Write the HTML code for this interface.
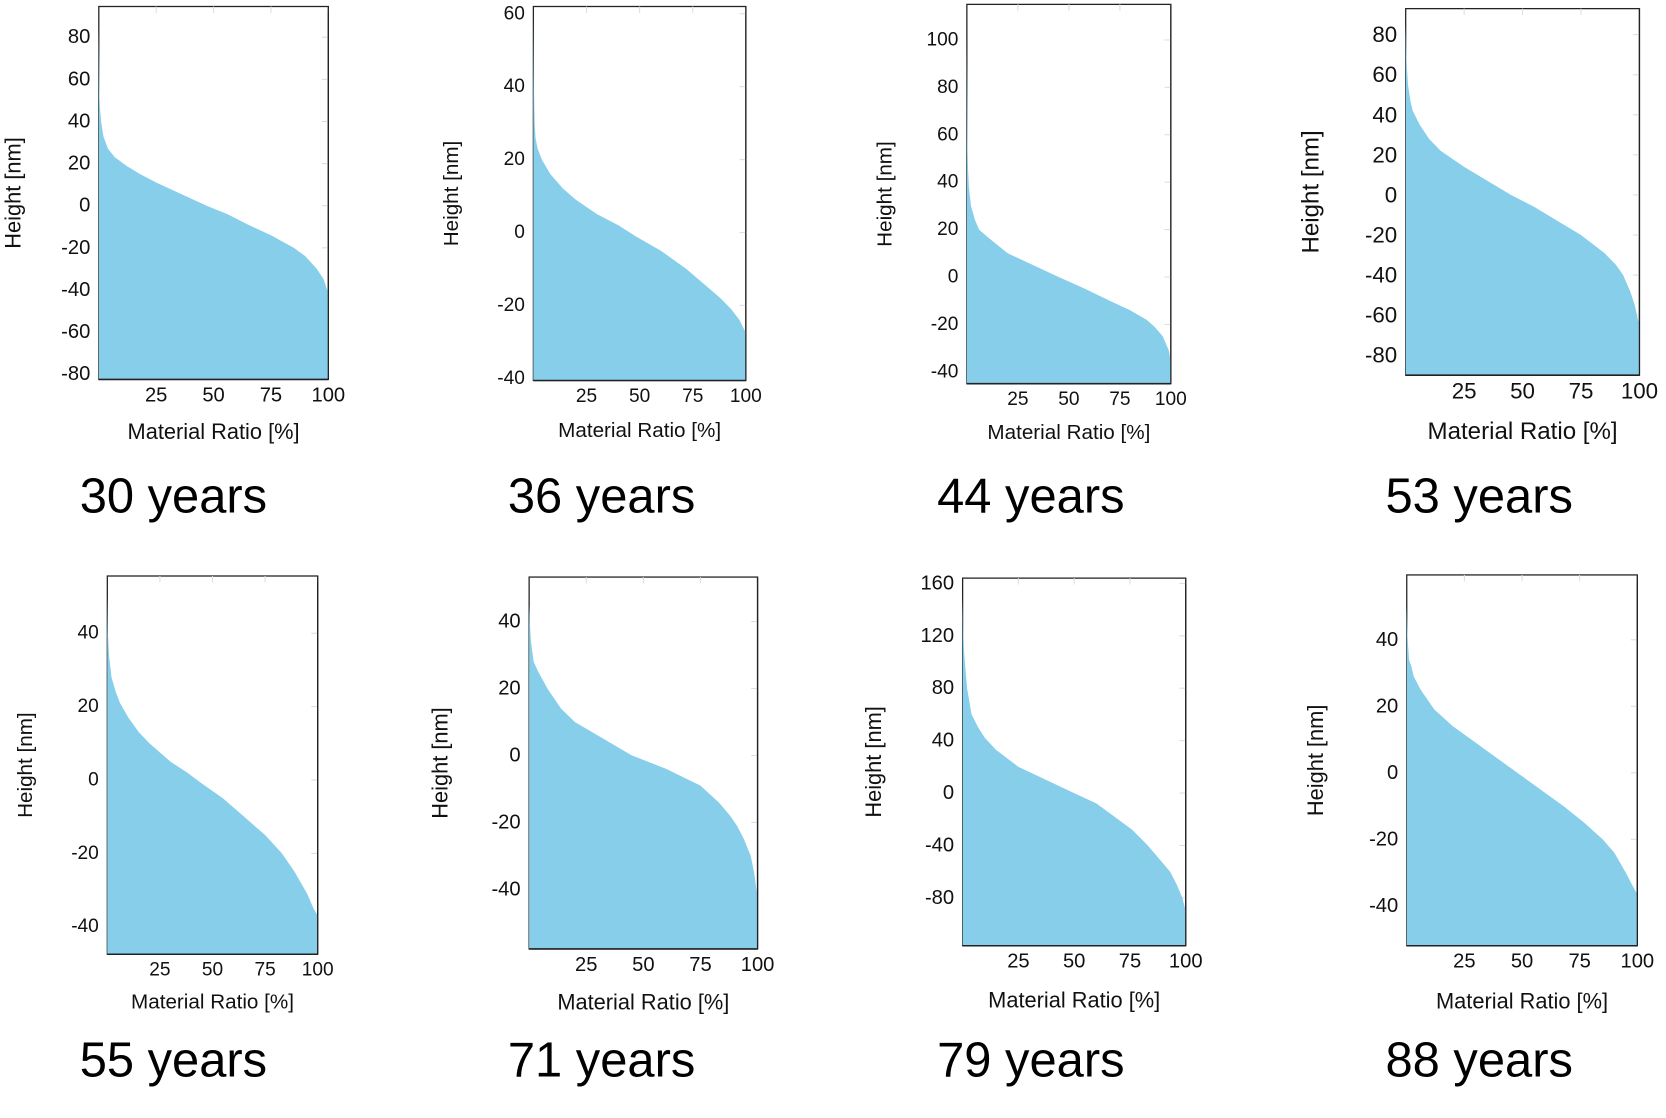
<!DOCTYPE html>
<html><head><meta charset="utf-8"><style>
html,body{margin:0;padding:0;background:#fff;}
svg{display:block;font-family:"Liberation Sans",Arial,sans-serif;}
</style></head><body>
<svg id="fig" width="1666" height="1118" viewBox="0 0 1568 1052" xmlns="http://www.w3.org/2000/svg"></svg>
<script>
// ---- data: per-panel categories & values (Material ratio [%] -> Height [nm]) ----
const panelTitles = ["30 years","36 years","44 years","53 years","55 years","71 years","79 years","88 years"];
const ratio30 = [0,0.3,0.6,1,2,4,7,12,18,25,35,47,56,65,75,85,90,95,98,99.5,100];
const height30 = [85,52,45,40,33,27,23,19,15,11,6,0,-4,-9,-14,-20,-24,-30,-35,-40,-41];
const ratio36 = [0,0.3,0.6,1,2,4,8,14,20,30,40,48,60,72,82,88,93,97,99.5,100];
const height36 = [60,38,30,26,23,20,16,12,9,5,2,-1,-5,-10,-15,-18,-21,-24,-27,-27];
const ratio44 = [0,0.3,0.6,1,2,4,6,10,20,30,45,58,70,80,88,92,96,99,100];
const height44 = [100,55,45,38,30,24,20,17,10,6,0,-5,-10,-14,-18,-21,-25,-31,-36];
const ratio53 = [0,0.3,0.6,1,2,3,6,10,15,25,35,45,55,65,75,85,90,93,96,98,99.5,100];
const height53 = [85,70,62,55,47,42,35,28,22,14,7,0,-6,-13,-20,-29,-35,-40,-48,-55,-63,-65];
const ratio55 = [0,0.3,0.8,2,4,6,10,15,20,30,38,45,55,65,75,83,89,95,98,100];
const height55 = [50,40,34,28,24,21,17,13,10,5,2,-1,-5,-10,-15,-20,-25,-31,-35,-37];
const ratio71 = [0,0.3,0.8,2,4,8,14,20,30,45,60,75,83,88,91,94,97,98.5,99.5,100];
const height71 = [45,40,34,28,25,20,14,10,6,0,-4,-9,-14,-18,-21,-25,-30,-35,-40,-41];
const ratio79 = [0,0.3,0.6,1,2,4,7,10,15,25,35,50,60,68,76,83,88,93,96,98.5,100];
const height79 = [150,125,110,100,80,60,50,42,33,20,12,0,-8,-18,-28,-40,-50,-60,-70,-80,-90];
const ratio88 = [0,0.3,0.6,1,2,3,6,9,12,20,28,38,48,58,68,77,85,90,95,98,99.5,100];
const height88 = [50,42,38,34,32,29,25,22,19,14,10,5,0,-5,-10,-15,-20,-24,-30,-34,-36,-37];
const yTicks30 = [80,60,40,20,0,-20,-40,-60,-80];
const yTicks36 = [60,40,20,0,-20,-40];
const yTicks44 = [100,80,60,40,20,0,-20,-40];
const yTicks53 = [80,60,40,20,0,-20,-40,-60,-80];
const yTicks55 = [40,20,0,-20,-40];
const yTicks71 = [40,20,0,-20,-40];
const yTicks79 = [160,120,80,40,0,-40,-80];
const yTicks88 = [40,20,0,-20,-40];
const xTicks = [25,50,75,100];

const ratios=[ratio30,ratio36,ratio44,ratio53,ratio55,ratio71,ratio79,ratio88];
const heights=[height30,height36,height44,height53,height55,height71,height79,height88];
const yTicksAll=[yTicks30,yTicks36,yTicks44,yTicks53,yTicks55,yTicks71,yTicks79,yTicks88];
const layout=[
 {x0:93,x1:309,y0:6,y1:357,ymax:94.6,ymin:-82.5,fs:19,ylx:12,xly:406,tx:75,ty:467},
 {x0:502,x1:702,y0:6,y1:358,ymax:62,ymin:-40.6,fs:18,ylx:425,xly:405,tx:478,ty:467},
 {x0:910,x1:1102,y0:4,y1:361,ymax:115,ymin:-45,fs:18,ylx:833,xly:407,tx:882,ty:467},
 {x0:1323,x1:1543,y0:8,y1:353,ymax:93,ymin:-90,fs:21,ylx:1234,xly:406,tx:1304,ty:467},
 {x0:101,x1:299,y0:542,y1:898,ymax:55.6,ymin:-47.5,fs:18,ylx:24,xly:943,tx:75,ty:998},
 {x0:498,x1:713,y0:543,y1:893,ymax:53.3,ymin:-57.8,fs:19,ylx:414,xly:943,tx:478,ty:998},
 {x0:906,x1:1116,y0:544,y1:890,ymax:164,ymin:-116.5,fs:19,ylx:822,xly:941,tx:882,ty:998},
 {x0:1324,x1:1541,y0:541,y1:890,ymax:59.5,ymin:-52,fs:19,ylx:1238,xly:942,tx:1304,ty:998}
];
const NS="http://www.w3.org/2000/svg";
const svg=document.getElementById('fig');
function mk(tag,attrs,parent){const e=document.createElementNS(NS,tag);for(const k in attrs)e.setAttribute(k,attrs[k]);parent.appendChild(e);return e;}
layout.forEach((L,i)=>{
  const g=mk('g',{},svg);
  
  
  const sx=v=>L.x0+(v/100)*(L.x1-L.x0);
  const sy=v=>L.y0+(L.ymax-v)/(L.ymax-L.ymin)*(L.y1-L.y0);
  const fr=mk('rect',{x:L.x0,y:L.y0,width:L.x1-L.x0,height:L.y1-L.y0,fill:'#fff',stroke:'#222','stroke-width':1.2},g);
  
  
  yTicksAll[i].forEach(t=>{mk('line',{x1:L.x1-6,x2:L.x1,y1:sy(t),y2:sy(t),stroke:'#ddd'},g);});
  xTicks.forEach(t=>{mk('line',{x1:sx(t),x2:sx(t),y1:L.y0,y2:L.y0+6,stroke:'#ddd'},g);});
  const r=ratios[i],h=heights[i];
  let d='M'+sx(0)+','+L.y1;
  for(let k=0;k<r.length;k++){d+=' L'+sx(r[k]).toFixed(2)+','+sy(h[k]).toFixed(2);}
  d+=' L'+sx(100)+','+L.y1+' Z';
  const a=mk('path',{d:d,fill:'#87ceeb'},g);
  
  
  mk('line',{x1:L.x0,x2:L.x1,y1:L.y1,y2:L.y1,stroke:'#222','stroke-width':1.5},g);
  mk('line',{x1:L.x1,x2:L.x1,y1:L.y0,y2:L.y1,stroke:'#222','stroke-width':1.2},g);
  yTicksAll[i].forEach(t=>{
    const tx=mk('text',{x:L.x0-8,y:sy(t),'text-anchor':'end','dominant-baseline':'central','font-size':L.fs,fill:'#111'},g);
    tx.textContent=t;
    
    
  });
  xTicks.forEach(t=>{
    const tx=mk('text',{x:sx(t),y:L.y1+15,'text-anchor':'middle','dominant-baseline':'central','font-size':L.fs,fill:'#111'},g);
    tx.textContent=t;
    
    
  });
  const cy=(L.y0+L.y1)/2;
  const lfs=L.fs*1.08;
  const yl=mk('text',{x:L.ylx,y:cy,'text-anchor':'middle','dominant-baseline':'central','font-size':lfs,fill:'#111',transform:'rotate(-90 '+L.ylx+' '+cy+')'},g);
  yl.textContent='Height [nm]';
  
  
  const xl=mk('text',{x:(L.x0+L.x1)/2,y:L.xly,'text-anchor':'middle','dominant-baseline':'central','font-size':lfs,fill:'#111'},g);
  xl.textContent='Material Ratio [%]';
  
  
  const tt=mk('text',{x:L.tx,y:L.ty,'dominant-baseline':'central','font-size':46,fill:'#000'},g);
  tt.textContent=panelTitles[i];
  
  
});
</script>
</body></html>
